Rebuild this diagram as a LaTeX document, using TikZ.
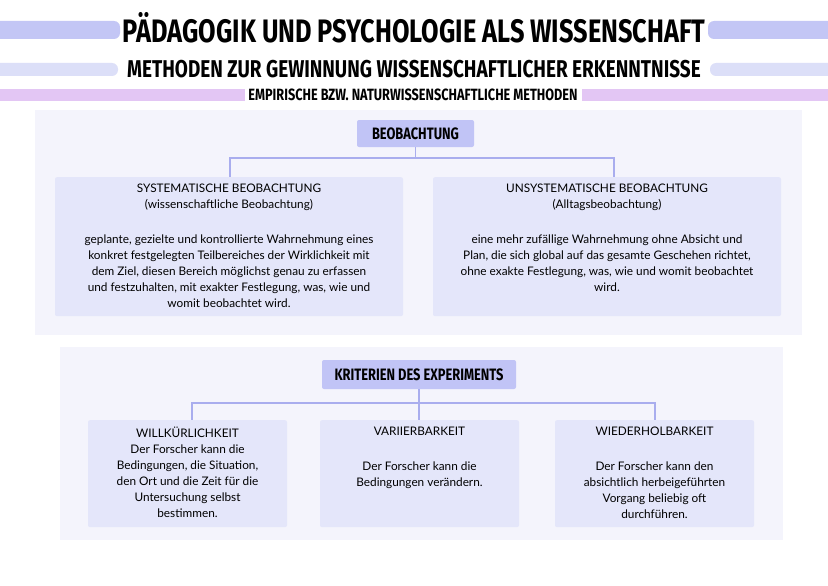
\documentclass[tikz,border=0pt]{standalone}
\usepackage{fontspec}
\setmainfont{Lato}
\newfontfamily\headfont{Fira Sans}[FakeStretch=0.78]
\definecolor{barblue}{HTML}{C3C6F5}
\definecolor{barlight}{HTML}{DCDFF8}
\definecolor{barpink}{HTML}{E3C6F4}
\definecolor{panelbg}{HTML}{F4F4FC}
\definecolor{headbox}{HTML}{C1C4F6}
\definecolor{cardbg}{HTML}{E4E6FA}
\definecolor{linkcol}{HTML}{A9ADEE}
\tikzset{
  bar/.style={rounded corners=6pt},
  headbox/.style={fill=headbox, rounded corners=2pt, font=\headfont\bfseries\fontsize{16.5}{18}\selectfont},
  card/.style={fill=cardbg, rounded corners=2pt, anchor=north, inner sep=0pt},
  cardtext/.style={align=center, anchor=north, inner sep=0pt, font=\fontsize{11.8}{16}\selectfont},
  link/.style={draw=linkcol, line width=1.3pt}
}
\begin{document}
\begin{tikzpicture}[x=1pt,y=-1pt]
    \useasboundingbox[fill=white] (0,0) rectangle (828,586);

    % Title bars
    \fill[barblue, bar] (-10,21) rectangle (120,39);
    \fill[barblue, bar] (708,21) rectangle (838,39);
    \node (title) at (414,28) {\headfont\bfseries\fontsize{32.5}{36}\selectfont PÄDAGOGIK UND PSYCHOLOGIE ALS WISSENSCHAFT};
    \fill[barlight, bar] (-10,63) rectangle (118,76);
    \fill[barlight, bar] (710,63) rectangle (838,76);
    \node (subtitle) at (414,69) {\headfont\bfseries\fontsize{24.3}{26}\selectfont METHODEN ZUR GEWINNUNG WISSENSCHAFTLICHER ERKENNTNISSE};
    \fill[barpink] (0,89) rectangle (245,101);
    \fill[barpink] (582,89) rectangle (828,101);
    \node (empir) at (413,95) {\headfont\bfseries\fontsize{16.3}{18}\selectfont EMPIRISCHE BZW. NATURWISSENSCHAFTLICHE METHODEN};

    % Panel Beobachtung
    \fill[panelbg] (35,110) rectangle (802,335);
    \node[headbox, minimum width=117pt, minimum height=27pt] (beob) at (415.5,133.5) {BEOBACHTUNG};
    \coordinate (b1) at (230,158);
    \coordinate (b2) at (614,158);
    \draw[link] (beob.south) -- (beob.south |- b1);
    \draw[link] (230,177) -- (b1) -- (b2) -- (614,177);
    \node[card, minimum width=348pt, minimum height=139pt] (sys) at (229,177) {};
    \node[cardtext] (systext) at (229,184) {SYSTEMATISCHE BEOBACHTUNG\\(wissenschaftliche Beobachtung)\\[19pt]
      geplante, gezielte und kontrollierte Wahrnehmung eines\\konkret festgelegten Teilbereiches der Wirklichkeit mit\\dem Ziel, diesen Bereich möglichst genau zu erfassen\\und festzuhalten, mit exakter Festlegung, was, wie und\\womit beobachtet wird.};
    \node[card, minimum width=348pt, minimum height=139pt] (unsys) at (607,177) {};
    \node[cardtext] (unsystext) at (607,184) {UNSYSTEMATISCHE BEOBACHTUNG\\(Alltagsbeobachtung)\\[19pt]
      eine mehr zufällige Wahrnehmung ohne Absicht und\\Plan, die sich global auf das gesamte Geschehen richtet,\\ohne exakte Festlegung, was, wie und womit beobachtet\\wird.};

    % Panel Experiment
    \fill[panelbg] (60,347) rectangle (783,540);
    \node[headbox, minimum width=194pt, minimum height=29pt] (krit) at (419,374.5) {KRITERIEN DES EXPERIMENTS};
    \coordinate (k1) at (192,403);
    \coordinate (k2) at (655,403);
    \draw[link] (krit.south) -- (krit.south |- k1);
    \draw[link] (192,420) -- (k1) -- (k2) -- (655,420);
    \draw[link] (419,403) -- (419,420);
    \node[card, minimum width=199pt, minimum height=107pt] (will) at (187.5,420) {};
    \node[cardtext] (willtext) at (187.5,427) {WILLKÜRLICHKEIT\\Der Forscher kann die\\Bedingungen, die Situation,\\den Ort und die Zeit für die\\Untersuchung selbst\\bestimmen.};
    \node[card, minimum width=199pt, minimum height=107pt] (vari) at (419.5,420) {};
    \node[cardtext] (varitext) at (419.5,427) {VARIIERBARKEIT\\[19pt]Der Forscher kann die\\Bedingungen verändern.};
    \node[card, minimum width=199pt, minimum height=107pt] (wied) at (654.5,420) {};
    \node[cardtext] (wiedtext) at (654.5,427) {WIEDERHOLBARKEIT\\[19pt]Der Forscher kann den\\absichtlich herbeigeführten\\Vorgang beliebig oft\\durchführen.};
\end{tikzpicture}
\end{document}
